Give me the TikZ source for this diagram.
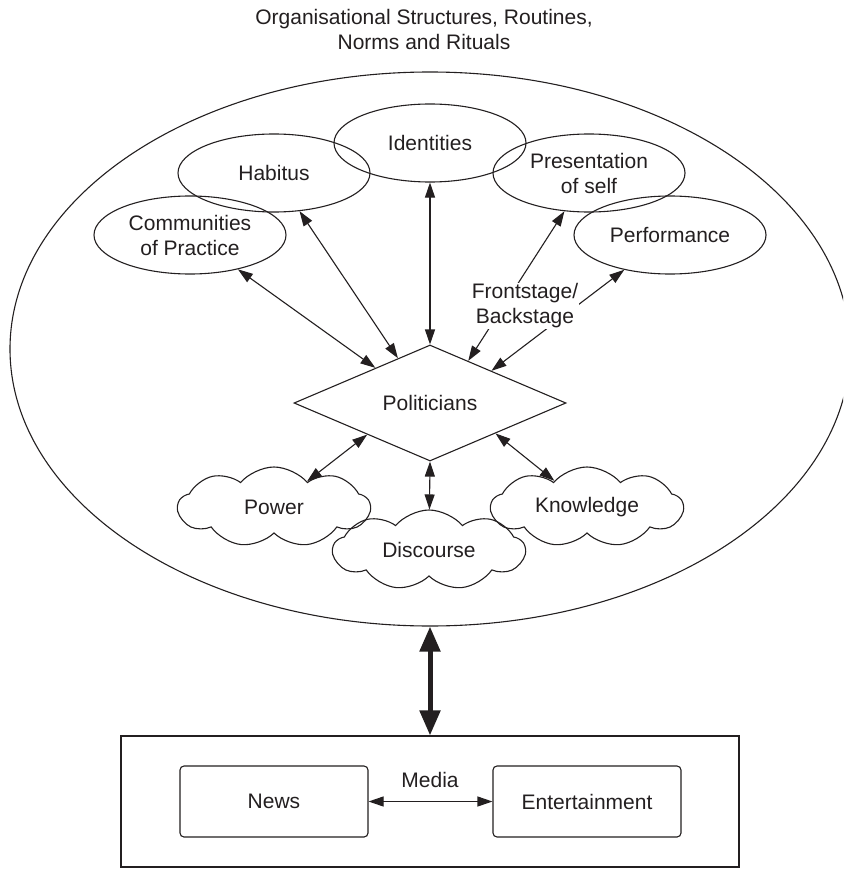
\documentclass[tikz,border=0pt]{standalone}
\usepackage{fontspec}
\setmainfont{Liberation Sans}
\usetikzlibrary{shapes.geometric,shapes.symbols,arrows.meta,calc}
\definecolor{ink}{HTML}{231F20}
\begin{document}
\begin{tikzpicture}[x=1pt,y=-1pt,
  every node/.style={font=\fontsize{21}{25}\selectfont, text=ink, inner sep=0pt},
  line/.style={draw=ink, line width=1.1pt},
  oval/.style={line, ellipse, minimum width=192pt, minimum height=78pt, align=center},
  puff/.style={line, cloud, cloud puffs=9, cloud puff arc=100, cloud ignores aspect, minimum width=192pt, minimum height=80pt},
  link/.style={line, {Triangle[length=15pt,width=10pt]}-{Triangle[length=15pt,width=10pt]}},
  biglink/.style={draw=ink, line width=5pt, {Triangle[length=25pt,width=20pt]}-{Triangle[length=25pt,width=20pt]}},
  box/.style={line, rectangle, rounded corners=4pt, minimum width=188pt, minimum height=71pt}
]
\clip (0,0) rectangle (843,869);
\fill[white] (0,0) rectangle (843,869);

\node[align=center] (title) at (424,29.5) {Organisational Structures, Routines,\\Norms and Rituals};
\node[line, ellipse, minimum width=840pt, minimum height=554pt] (org) at (430,349) {};

\node[oval] (comm) at (190,235) {Communities\\of Practice};
\node[oval] (hab) at (274,173) {Habitus};
\node[oval] (ide) at (430,143) {Identities};
\node[oval] (pres) at (589,173) {Presentation\\of self};
\node[oval] (perf) at (670,235) {Performance};

\node[line, diamond, minimum width=272pt, minimum height=116pt, aspect=2.3] (pol) at (430,403) {Politicians};

\node[puff] (pow) at (274,507) {Power};
\node[puff] (know) at (587,507) {Knowledge};
\node[puff] (dis) at (429,550) {Discourse};

\coordinate (pA) at ($(pol.north)!0.40!(pol.west)$);
\coordinate (pB) at ($(pol.north)!0.235!(pol.west)$);
\coordinate (pD) at ($(pol.north)!0.28!(pol.east)$);
\coordinate (pE) at ($(pol.north)!0.45!(pol.east)$);
\coordinate (pF) at ($(pol.south)!0.46!(pol.west)$);
\coordinate (pG) at ($(pol.south)!0.48!(pol.east)$);

\draw[link] (comm) -- (pA);
\draw[link] (hab) -- (pB);
\draw[link] (ide) -- (pol.north);
\draw[link] (pres) -- (pD);
\draw[link] (perf) -- (pE);
\draw[link] (pow) -- (pF);
\draw[link] (know) -- (pG);
\draw[link] (dis) -- (pol.south);

\node[fill=white, align=center, inner sep=1pt] (fb) at (525,306) {Frontstage/\\Backstage};

\node[line, rectangle, minimum width=618pt, minimum height=131pt] (media) at (430,801.5) {};
\node[box] (news) at (274,801.5) {News};
\node[box] (ent) at (587,801.5) {Entertainment};
\node (medlab) at (430,780) {Media};
\draw[link] (news) -- (ent);
\draw[biglink] (org.south) -- (media.north);
\end{tikzpicture}
\end{document}
